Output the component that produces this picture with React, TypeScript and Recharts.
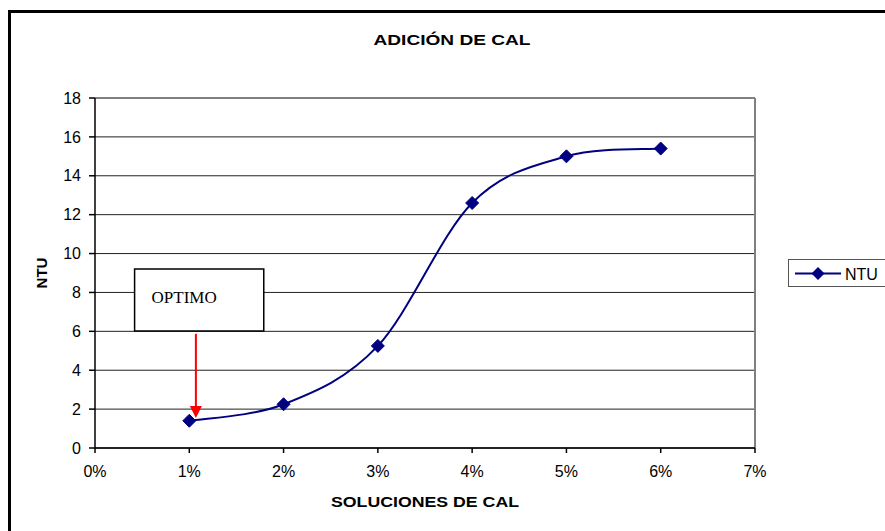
import {
  CartesianGrid,
  Label,
  Line,
  LineChart,
  ReferenceArea,
  ReferenceLine,
  XAxis,
  YAxis,
} from "recharts";

const solutions = [1, 2, 3, 4, 5, 6];
const ntu = [1.4, 2.25, 5.25, 12.6, 15.0, 15.4];
const xTicks = [0, 1, 2, 3, 4, 5, 6, 7];
const yTicks = [0, 2, 4, 6, 8, 10, 12, 14, 16, 18];

const data = solutions.map((s, i) => ({ sol: s, ntu: ntu[i] }));

const NAVY = "#000080";
const FONT = "'Liberation Sans', Arial, sans-serif";

// Excel style smoothed line (Catmull-Rom through the points)
function smoothCurve(context: any) {
  let pts: number[][] = [];
  return {
    areaStart() {},
    areaEnd() {},
    lineStart() {
      pts = [];
    },
    lineEnd() {
      if (!pts.length) return;
      context.moveTo(pts[0][0], pts[0][1]);
      for (let i = 0; i < pts.length - 1; i++) {
        const p0 = pts[i - 1] || pts[i];
        const p1 = pts[i];
        const p2 = pts[i + 1];
        const p3 = pts[i + 2] || p2;
        context.bezierCurveTo(
          p1[0] + (p2[0] - p0[0]) / 6,
          p1[1] + (p2[1] - p0[1]) / 6,
          p2[0] - (p3[0] - p1[0]) / 6,
          p2[1] - (p3[1] - p1[1]) / 6,
          p2[0],
          p2[1]
        );
      }
    },
    point(x: number, y: number) {
      pts.push([x, y]);
    },
  };
}

const Diamond = (props: any) => {
  const { cx, cy } = props;
  if (cx == null || cy == null) return null;
  const r = 6.5;
  return (
    <polygon
      points={`${cx},${cy - r} ${cx + r},${cy} ${cx},${cy + r} ${cx - r},${cy}`}
      fill={NAVY}
      stroke={NAVY}
    />
  );
};

const Arrow = (props: any) => {
  const { x1, y1, x2, y2 } = props;
  return (
    <g>
      <line x1={x1} y1={y1} x2={x2} y2={y2 - 10} stroke="#ff0000" strokeWidth={2} />
      <polygon
        points={`${x2 - 6},${y2 - 12} ${x2 + 6},${y2 - 12} ${x2},${y2}`}
        fill="#ff0000"
      />
    </g>
  );
};

function NtuLegend() {
  return (
    <div
      style={{
        position: "absolute",
        left: 788,
        top: 259,
        width: 110,
        height: 28,
        border: "1px solid #555",
        background: "#fff",
        boxSizing: "border-box",
      }}
    >
      <svg width={110} height={27} style={{ position: "absolute", left: 0, top: 0 }}>
        <line x1={6} y1={13.5} x2={52} y2={13.5} stroke={NAVY} strokeWidth={2} />
        <polygon points="29,7 35.5,13.5 29,20 22.5,13.5" fill={NAVY} />
        <text x={56} y={19.5} fontFamily={FONT} fontSize={16} fill="#000">
          NTU
        </text>
      </svg>
    </div>
  );
}

export default function App() {
  return (
    <div
      style={{
        position: "absolute",
        left: 0,
        top: 0,
        width: 885,
        height: 531,
        overflow: "hidden",
        background: "#fff",
      }}
    >
      <div
        style={{
          position: "absolute",
          left: 8,
          top: 10,
          width: 920,
          height: 560,
          border: "3px solid #000",
        }}
      />
      <LineChart
        width={885}
        height={531}
        data={data}
        margin={{ top: 98, right: 130, left: 0, bottom: 0 }}
        style={{ position: "absolute", left: 0, top: 0 }}
      >
        <text
          x={452}
          y={45}
          textAnchor="middle"
          fontFamily={FONT}
          fontWeight="bold"
          fontSize={15}
          textLength={157}
          lengthAdjust="spacingAndGlyphs"
        >
          ADICIÓN DE CAL
        </text>
        <CartesianGrid vertical={false} stroke="#222" strokeWidth={1} />
        <XAxis
          dataKey="sol"
          type="number"
          domain={[0, 7]}
          ticks={xTicks}
          tickFormatter={(v) => `${v}%`}
          height={83}
          stroke="#000"
          strokeWidth={1.5}
          tickSize={5}
          tickMargin={13}
          tick={{ fill: "#000", fontSize: 16, fontFamily: FONT }}
        >
          <Label
            content={(p: any) => {
              const vb = p.viewBox;
              return (
                <text
                  x={vb.x + vb.width / 2}
                  y={vb.y + 59}
                  textAnchor="middle"
                  fontFamily={FONT}
                  fontWeight="bold"
                  fontSize={15.5}
                  textLength={188}
                  lengthAdjust="spacingAndGlyphs"
                >
                  SOLUCIONES DE CAL
                </text>
              );
            }}
          />
        </XAxis>
        <YAxis
          type="number"
          domain={[0, 18]}
          ticks={yTicks}
          width={95}
          stroke="#000"
          strokeWidth={1.5}
          tickSize={6}
          tickMargin={8}
          tick={{ fill: "#000", fontSize: 16, fontFamily: FONT }}
        >
          <Label
            content={(p: any) => {
              const vb = p.viewBox;
              const cy = vb.y + vb.height / 2;
              return (
                <text
                  x={41}
                  y={cy}
                  textAnchor="middle"
                  dominantBaseline="central"
                  transform={`rotate(-90 41 ${cy})`}
                  fontFamily={FONT}
                  fontWeight="bold"
                  fontSize={15}
                >
                  NTU
                </text>
              );
            }}
          />
        </YAxis>
        <ReferenceLine y={18} stroke="#808080" strokeWidth={2} />
        <ReferenceLine x={7} stroke="#808080" strokeWidth={2} />
        <ReferenceArea
          x1={0.42}
          x2={1.79}
          y1={6.02}
          y2={9.2}
          fill="#fff"
          fillOpacity={1}
          stroke="#000"
          strokeWidth={1.5}
        >
          <Label
            value="OPTIMO"
            position="insideLeft"
            offset={17}
            dy={-3}
            fill="#000"
            fontFamily="'Liberation Serif', 'Times New Roman', serif"
            fontSize={17}
          />
        </ReferenceArea>
        <ReferenceLine
          segment={[
            { x: 1.07, y: 5.87 },
            { x: 1.07, y: 1.54 },
          ]}
          shape={Arrow}
        />
        <Line
          type={smoothCurve as any}
          dataKey="ntu"
          name="NTU"
          stroke={NAVY}
          strokeWidth={2}
          dot={<Diamond />}
          activeDot={false}
          isAnimationActive={false}
        />
      </LineChart>
      <NtuLegend />
    </div>
  );
}
